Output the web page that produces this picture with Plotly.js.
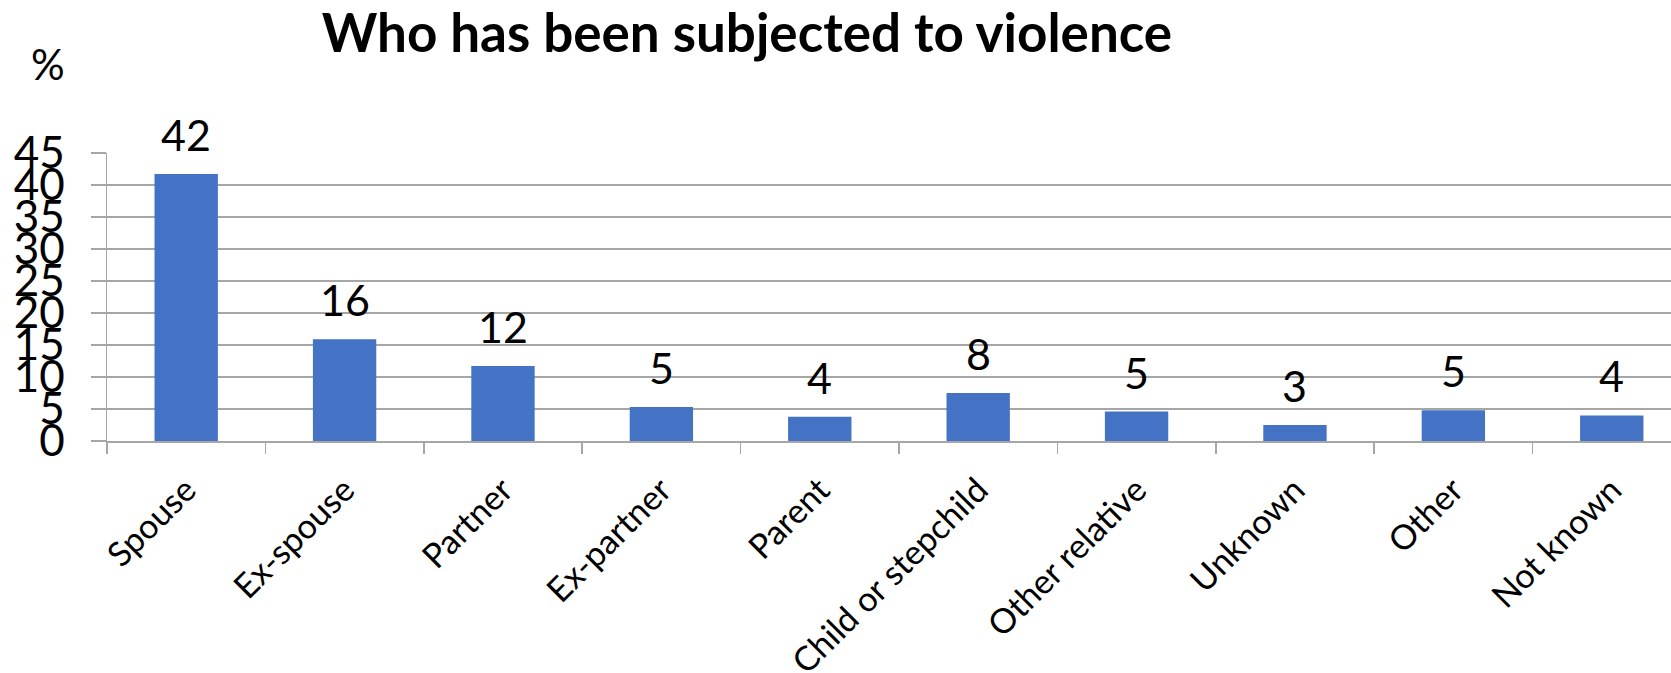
<!DOCTYPE html>
<html>
<head>
<meta charset="utf-8">
<script src="https://cdn.plot.ly/plotly-3.0.1.min.js"></script>
<style>html,body{margin:0;padding:0;background:#fff;}#chart{width:1671px;height:673px;}</style>
</head>
<body>
<div id="chart"></div>
<script>
const categories = ["Spouse","Ex-spouse","Partner","Ex-partner","Parent","Child or stepchild","Other relative","Unknown","Other","Not known"];
const values = [41.7, 15.9, 11.7, 5.3, 3.8, 7.5, 4.6, 2.5, 4.8, 4.0];
const yTicks = [0,5,10,15,20,25,30,35,40,45];
const chartTitle = "Who has been subjected to violence";
const unitLabel = "%";

const FONT = "Lato, 'Open Sans', sans-serif";
const GRID = "#a6a6a6";

const trace = {
  type: "bar",
  x: categories,
  y: values,
  marker: {color: "#4472c4", line: {width: 0}},
  width: 0.4,
  hoverinfo: "x+y"
};

const annotations = categories.map((c, i) => ({
  x: c, y: values[i], xref: "x", yref: "y",
  text: String(Math.round(values[i])),
  showarrow: false, yanchor: "bottom", yshift: 12,
  font: {family: FONT, size: 43, color: "#000"}
}));
annotations.push({
  xref: "paper", yref: "paper", x: -0.038, y: 1.31,
  text: unitLabel, showarrow: false, xanchor: "center", yanchor: "middle",
  font: {family: FONT, size: 42, color: "#000"}
});

const layout = {
  width: 1671, height: 673,
  margin: {l: 107, r: 0, t: 152.5, b: 231.5, pad: 0},
  paper_bgcolor: "#fff", plot_bgcolor: "#fff",
  showlegend: false,
  title: {
    text: "<b>" + chartTitle + "</b>",
    x: 0.447, xanchor: "center", xref: "container",
    y: 0.951, yanchor: "middle", yref: "container",
    font: {family: FONT, size: 53, color: "#000"}
  },
  xaxis: {
    type: "category",
    range: [-0.5, 9.374],
    showgrid: false,
    showline: true, linecolor: GRID, linewidth: 1.5,
    ticks: "outside", tickson: "boundaries", ticklen: 11, tickcolor: GRID, tickwidth: 1.5,
    tickangle: -45,
    ticklabelstandoff: 14,
    tickfont: {family: FONT, size: 34, color: "#000"},
    fixedrange: true
  },
  yaxis: {
    range: [0, 45],
    tickvals: yTicks,
    ticktext: yTicks.map(String),
    showgrid: true, gridcolor: GRID, gridwidth: 1.5,
    showline: true, linecolor: GRID, linewidth: 1.5,
    zeroline: false,
    ticks: "outside", ticklen: 15, tickcolor: GRID, tickwidth: 1.5,
    ticklabelstandoff: 17,
    tickfont: {family: FONT, size: 44, color: "#000"},
    fixedrange: true
  },
  annotations: annotations
};

Plotly.newPlot("chart", [trace], layout, {displayModeBar: false, staticPlot: true});
</script>
</body>
</html>
